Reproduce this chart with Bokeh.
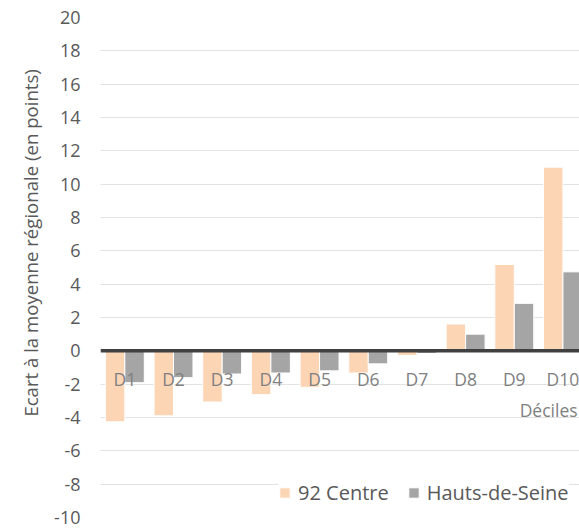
import numpy as np
from math import pi
from bokeh.plotting import figure
from bokeh.layouts import row
from bokeh.models import (Range1d, FixedTicker, Span, Label, Legend, LegendItem,
                          ColumnDataSource)
from bokeh.core.properties import value
from bokeh.embed import file_html
from bokeh.resources import INLINE

# ---- data ----
categories = ["D1", "D2", "D3", "D4", "D5", "D6", "D7", "D8", "D9", "D10"]
centre_92 = [-4.26, -3.90, -3.07, -2.63, -2.19, -1.33, -0.28, 1.61, 5.18, 11.02]
hauts_de_seine = [-1.91, -1.61, -1.39, -1.33, -1.20, -0.78, -0.16, 1.00, 2.85, 4.74]
series_names = ["92 Centre", "Hauts-de-Seine"]
y_ticks = list(range(-10, 21, 2))
y_title = "Ecart à la moyenne régionale (en points)"
x_title = "Déciles"

FONT = "Open Sans"
C_ORANGE = "#FCD5B5"
C_GRAY = "#A5A5A5"
C_TEXT = "#595959"

W, H = 579, 529
LEFT_W = 45

idx = np.arange(len(categories))
src = ColumnDataSource(dict(
    cat=categories,
    xc=idx + 0.5,
    x1=idx + 0.5 - 0.2,
    x2=idx + 0.5 + 0.2,
    v1=centre_92,
    v2=hauts_de_seine,
))

# ---- narrow panel holding the y-axis title ----
lt = figure(width=LEFT_W, height=H, output_backend="svg", toolbar_location=None,
            x_axis_type=None, y_axis_type=None,
            x_range=Range1d(0, LEFT_W), y_range=Range1d(0, H),
            min_border=0)
lt.outline_line_color = None
lt.grid.visible = False
lt.text(x=[29.5], y=[H - 238.5], text=[y_title], angle=pi / 2,
        text_align="center", text_baseline="middle",
        text_font=value(FONT), text_font_size="18.6px", text_color=C_TEXT)

# ---- main chart ----
p = figure(width=W - LEFT_W, height=H, output_backend="svg",
           toolbar_location=None, x_axis_type=None,
           x_range=Range1d(0, 9.84), y_range=Range1d(-10, 20),
           min_border_left=100 - LEFT_W, min_border_right=0, min_border_top=17,
           min_border_bottom=12)
p.outline_line_color = None

ax = p.yaxis[0]
ax.ticker = FixedTicker(ticks=y_ticks)
ax.major_label_overrides = {t: str(t) for t in y_ticks}
ax.axis_line_color = None
ax.major_tick_line_color = None
ax.minor_tick_line_color = None
ax.major_tick_out = 0
ax.major_label_standoff = 20
ax.major_label_text_font = FONT
ax.major_label_text_font_size = "18px"
ax.major_label_text_color = C_TEXT

p.xgrid.visible = False
p.ygrid.grid_line_color = "#C4C4C4"
p.ygrid.grid_line_dash = "1 1"
p.ygrid.grid_line_width = 1
p.ygrid.ticker = FixedTicker(ticks=y_ticks)

r1 = p.vbar(x="x1", top="v1", bottom=0, width=0.4, source=src,
            fill_color=C_ORANGE, line_color="white", line_width=1)
r2 = p.vbar(x="x2", top="v2", bottom=0, width=0.4, source=src,
            fill_color=C_GRAY, line_color="white", line_width=1)

p.text(x="xc", y=0, text="cat", source=src, y_offset=28,
       text_align="center", text_baseline="middle",
       text_font=value(FONT), text_font_size="17.5px", text_color="#808080")

p.add_layout(Span(location=0, dimension="width", line_color="#404040",
                  line_width=3.5))

p.add_layout(Label(x=9.80, y=-3.53, text=x_title, text_align="right",
                   text_baseline="middle", text_font=FONT,
                   text_font_size="17.5px", text_color="#808080"))

legend = Legend(items=[LegendItem(label=series_names[0], renderers=[r1]),
                       LegendItem(label=series_names[1], renderers=[r2])],
                orientation="horizontal", location=(178, 11),
                glyph_width=13, glyph_height=13, label_standoff=7, spacing=18,
                padding=3, margin=0, label_height=13,
                label_text_font=FONT, label_text_font_size="20px",
                label_text_color=C_TEXT, border_line_color=None,
                background_fill_color="white", background_fill_alpha=1.0)
p.add_layout(legend, "center")

layout = row(lt, p, spacing=0)
open("out.html", "w").write(file_html(layout, INLINE))
